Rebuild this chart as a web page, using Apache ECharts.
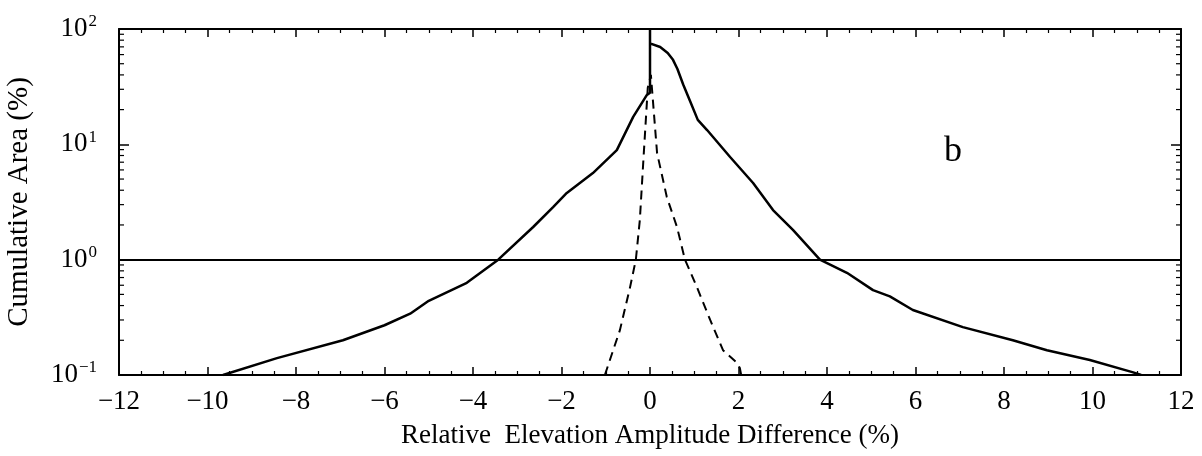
<!DOCTYPE html>
<html><head><meta charset="utf-8">
<script src="https://cdn.jsdelivr.net/npm/echarts@6/dist/echarts.min.js"></script>
<style>html,body{margin:0;padding:0;background:#fff}#c{width:1202px;height:456px}</style>
</head><body><div id="c"></div>
<script>
// Solid curve: left branch (rising to 0), then right branch (falling)
const solidLeftX = [-9.65, -8.43, -6.94, -6.0, -5.42, -5.0, -4.14, -3.43, -2.64, -2.19, -1.88, -1.29, -0.75, -0.38, -0.07, 0];
const solidLeftY = [0.1, 0.14, 0.20, 0.27, 0.34, 0.44, 0.63, 1.0, 1.92, 2.86, 3.79, 5.63, 8.9, 17.3, 26.8, 28];
const solidTopX = [0, 0];
const solidTopY = [100, 75];
const solidRightX = [0.02, 0.23, 0.4, 0.52, 0.62, 0.75, 0.9, 1.08, 1.29, 1.81, 2.33, 2.78, 3.23, 3.84, 4.45, 5.04, 5.42, 5.94, 7.07, 8.2, 8.97, 9.94, 10.9, 11.1];
const solidRightY = [75, 69.8, 62, 54, 45, 33, 24, 16.3, 13.3, 7.76, 4.62, 2.69, 1.81, 1.0, 0.77, 0.544, 0.48, 0.366, 0.26, 0.20, 0.164, 0.135, 0.106, 0.1];
// Dashed curve
const dashX = [-1.02, -0.68, -0.45, -0.32, -0.23, -0.14, -0.05, 0.02, 0.16, 0.38, 0.61, 0.79, 1.06, 1.36, 1.65, 1.97, 2.03, 2.06];
const dashY = [0.1, 0.245, 0.578, 1.0, 2.2, 8.4, 31, 40, 8.4, 3.49, 1.92, 1.0, 0.578, 0.30, 0.164, 0.127, 0.115, 0.1];
// Reference line
const refLevel = 1;
// Axis settings
const xMin = -12, xMax = 12, xStep = 2;
const yMin = 0.1, yMax = 100;
const yMinorTicks = [];
[0.1, 1, 10].forEach(d => { for (let k = 2; k <= 9; k++) yMinorTicks.push(+(k * d).toPrecision(3)); });

const zip = (a, b) => a.map((v, i) => [v, b[i]]);
const solidData = zip(solidLeftX, solidLeftY).concat(zip(solidTopX, solidTopY), zip(solidRightX, solidRightY));
const dashData = zip(dashX, dashY);

const FONT = 'Liberation Serif';
const fmtX = v => (v < 0 ? '\u2212' + Math.abs(v) : String(v));
const fmtY = v => {
  const e = Math.round(Math.log10(v));
  return '{b|10}{s|' + (e < 0 ? '\u2212' + Math.abs(e) : e) + '}';
};

const xAxisBase = {
  type: 'value', min: xMin, max: xMax, interval: xStep,
  axisLine: { show: true, onZero: false, lineStyle: { color: '#000', width: 2 } },
  axisTick: { show: true, inside: true, length: 8, lineStyle: { color: '#000', width: 1.5 } },
  minorTick: { show: true, splitNumber: 4, length: 4, lineStyle: { color: '#000', width: 1.2 } },
  splitLine: { show: false }, minorSplitLine: { show: false }
};
const yAxisBase = {
  type: 'log', logBase: 10, min: yMin, max: yMax,
  axisLine: { show: true, onZero: false, lineStyle: { color: '#000', width: 2 } },
  axisTick: { show: true, inside: true, length: 10, lineStyle: { color: '#000', width: 1.5 } },
  splitLine: { show: false }
};

const chart = echarts.init(document.getElementById('c'), null, { renderer: 'canvas' });
chart.setOption({
  animation: false,
  backgroundColor: '#fff',
  grid: { left: 119, right: 21, top: 29, bottom: 81, containLabel: false, outerBoundsMode: 'none' },
  xAxis: [
    Object.assign({}, xAxisBase, {
      position: 'bottom',
      name: 'Relative  Elevation Amplitude Difference (%)',
      nameLocation: 'middle', nameGap: 47,
      nameTextStyle: { fontFamily: FONT, fontSize: 27, color: '#000' },
      axisLabel: { show: true, formatter: fmtX, margin: 13, fontFamily: FONT, fontSize: 27, color: '#000' }
    }),
    Object.assign({}, xAxisBase, { position: 'top', axisLabel: { show: false } })
  ],
  yAxis: [
    Object.assign({}, yAxisBase, {
      position: 'left',
      name: 'Cumulative Area (%)',
      nameLocation: 'middle', nameGap: 85, nameRotate: 90,
      nameTextStyle: { fontFamily: FONT, fontSize: 29, color: '#000' },
      axisLabel: {
        show: true, formatter: fmtY, margin: 22,
        rich: {
          b: { fontFamily: FONT, fontSize: 27, color: '#000' },
          s: { fontFamily: FONT, fontSize: 17, color: '#000', verticalAlign: 'top', padding: [0, 0, 14, 1] }
        }
      }
    }),
    Object.assign({}, yAxisBase, { position: 'right', axisLabel: { show: false } })
  ],
  series: [
    {
      type: 'line', xAxisIndex: 0, yAxisIndex: 0, data: solidData,
      showSymbol: false, symbol: 'none', smooth: false,
      lineStyle: { color: '#000', width: 2.5 },
      markLine: {
        silent: true, symbol: 'none', label: { show: false },
        lineStyle: { color: '#000', width: 2, type: 'solid' },
        data: [{ yAxis: refLevel }]
      },
      z: 3
    },
    {
      type: 'line', xAxisIndex: 0, yAxisIndex: 0, data: dashData,
      showSymbol: false, symbol: 'none',
      lineStyle: { color: '#000', width: 2, type: [9, 6] },
      z: 3
    },
    {
      type: 'custom', xAxisIndex: 0, yAxisIndex: 0,
      data: yMinorTicks.map(v => [xMin, v]),
      silent: true, clip: false,
      renderItem: function (params, api) {
        const v = api.value(1);
        const l = api.coord([xMin, v]);
        const r = api.coord([xMax, v]);
        const st = { stroke: '#000', lineWidth: 1.2 };
        return {
          type: 'group', children: [
            { type: 'line', shape: { x1: l[0], y1: l[1], x2: l[0] + 5, y2: l[1] }, style: st },
            { type: 'line', shape: { x1: r[0], y1: r[1], x2: r[0] - 5, y2: r[1] }, style: st }
          ]
        };
      }
    }
  ],
  graphic: [
    { type: 'text', left: 944, top: 134, style: { text: 'b', fontFamily: FONT, fontSize: 36, fill: '#000' } }
  ]
});
</script>
</body></html>
